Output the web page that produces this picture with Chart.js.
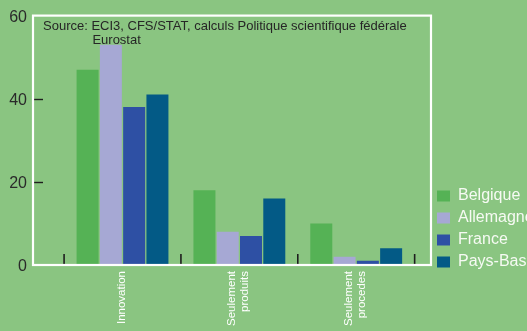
<!DOCTYPE html>
<html><head><meta charset="utf-8">
<script src="https://cdn.jsdelivr.net/npm/chart.js@4"></script>
<style>html,body{margin:0;padding:0;background:#8ac581;}canvas{display:block;}</style>
</head><body>
<canvas id="c" width="527" height="331"></canvas>
<script>
const categories = [['Innovation'], ['Seulement', 'produits'], ['Seulement', 'procedes']];
const seriesNames = ['Belgique', 'Allemagne', 'France', 'Pays-Bas'];
const belgique = [47, 18, 10];
const allemagne = [53, 8, 2];
const france = [38, 7, 1];
const paysBas = [41, 16, 4];
const yTickValues = [0, 20, 40, 60];
const sourceLines = ['Source: ECI3, CFS/STAT, calculs Politique scientifique fédérale', 'Eurostat'];

const seriesValues = [belgique, allemagne, france, paysBas];
const seriesColors = ['#55b255', '#a6a8d4', '#2e50a4', '#035a86'];
const FONT = '"Liberation Sans", Arial, sans-serif';

const datasets = seriesNames.map((name, s) => ({
  label: name,
  data: categories.map((c, i) => ({ x: i + 1, y: seriesValues[s][i] })),
  backgroundColor: seriesColors[s],
  borderWidth: 0,
  categoryPercentage: 0.797,
  barPercentage: 0.945
}));

const decor = {
  id: 'decor',
  afterLayout(chart) {
    const lg = chart.legend;
    if (!lg) return;
    const target = chart.chartArea.bottom + 11;
    const d = target - lg.bottom;
    lg.top += d; lg.bottom += d;
  },
  afterDatasetsDraw(chart) {
    const { ctx, chartArea: ca, scales } = chart;
    ctx.save();
    ctx.strokeStyle = '#1e1e1e';
    ctx.lineWidth = 1.4;
    yTickValues.forEach(v => {
      if (v === scales.y.min || v === scales.y.max) return;
      const y = Math.round(scales.y.getPixelForValue(v)) + 0.5;
      ctx.beginPath(); ctx.moveTo(ca.left, y); ctx.lineTo(ca.left + 10, y); ctx.stroke();
    });
    ctx.lineWidth = 1.6;
    for (let i = 0; i <= categories.length; i++) {
      const x = scales.x.getPixelForValue(i + 0.5);
      ctx.beginPath(); ctx.moveTo(x, ca.bottom - 11); ctx.lineTo(x, ca.bottom); ctx.stroke();
    }
    ctx.strokeStyle = '#ffffff';
    ctx.lineWidth = 2.2;
    ctx.strokeRect(ca.left, ca.top, ca.right - ca.left, ca.bottom - ca.top);
    // source note
    ctx.fillStyle = '#262626';
    ctx.font = '13px ' + FONT;
    ctx.textBaseline = 'middle';
    ctx.textAlign = 'left';
    const x0 = ca.left + 10;
    ctx.fillText(sourceLines[0], x0, ca.top + 11);
    const indent = ctx.measureText('Source: ').width;
    ctx.fillText(sourceLines[1], x0 + indent + 1, ca.top + 25);
    // rotated category labels, centred on each category
    ctx.fillStyle = '#ffffff';
    ctx.font = '11.5px ' + FONT;
    ctx.textAlign = 'right';
    ctx.textBaseline = 'middle';
    const lh = 13;
    categories.forEach((lines, i) => {
      const px = scales.x.getPixelForValue(i + 1);
      ctx.save();
      ctx.translate(px - 1, ca.bottom + 6);
      ctx.rotate(-Math.PI / 2);
      lines.forEach((t, k) => {
        ctx.fillText(t, 0, (k - (lines.length - 1) / 2) * lh);
      });
      ctx.restore();
    });
    ctx.restore();
  }
};

new Chart(document.getElementById('c'), {
  type: 'bar',
  data: { datasets },
  plugins: [decor],
  options: {
    responsive: false,
    animation: false,
    layout: { padding: { top: 14, right: 0, bottom: 0, left: 0 } },
    plugins: {
      title: { display: false },
      tooltip: { enabled: false },
      legend: {
        position: 'right',
        align: 'end',
        maxWidth: 96,
        labels: {
          boxWidth: 13,
          boxHeight: 11,
          padding: 6,
          color: '#f6faf3',
          font: { family: FONT, size: 16 }
        }
      }
    },
    scales: {
      x: {
        type: 'linear',
        min: 0.234,
        max: 3.64,
        bounds: 'data',
        offset: false,
        afterBuildTicks: s => { s.ticks = categories.map((c, i) => ({ value: i + 1 })); },
        afterFit: s => { s.height = 66; },
        grid: { display: false, drawTicks: false },
        border: { display: false },
        ticks: { display: false }
      },
      y: {
        min: 0,
        max: 60,
        afterBuildTicks: s => { s.ticks = yTickValues.map(v => ({ value: v })); },
        afterFit: s => { s.width = 33; },
        grid: { display: false, drawTicks: false },
        border: { display: false },
        ticks: {
          padding: 6,
          labelOffset: 1.5,
          color: '#2a2a2a',
          font: { family: FONT, size: 16 }
        }
      }
    }
  }
});
</script>
</body></html>
